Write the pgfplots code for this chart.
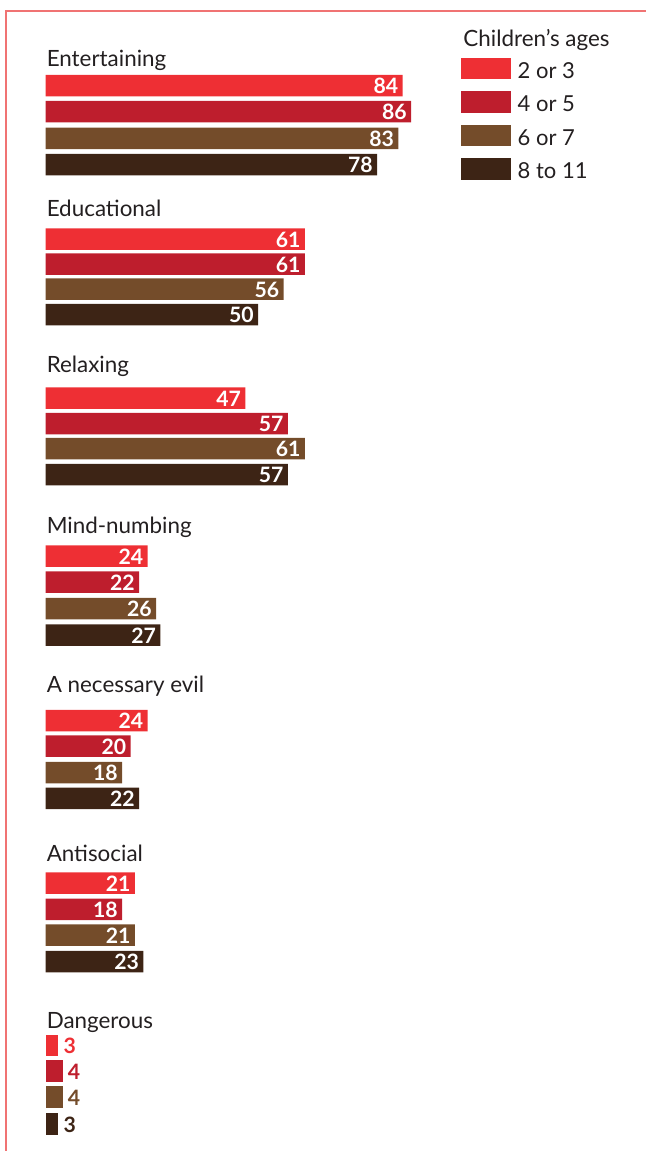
\documentclass[border=0pt]{standalone}
\usepackage{pgfplots}
\pgfplotsset{compat=1.18}
\usepackage{pgfplotstable}
\usepackage{fontspec}
\setmainfont{Lato}

\definecolor{ageA}{HTML}{EE2F34}
\definecolor{ageB}{HTML}{BE1E2D}
\definecolor{ageC}{HTML}{744C2A}
\definecolor{ageD}{HTML}{3D2415}
\definecolor{framered}{HTML}{F07373}
\definecolor{ink}{HTML}{231F20}

\newcommand\catfont{\fontsize{11.2pt}{13pt}\selectfont}
\newcommand\valuefont{\fontsize{10.6pt}{12pt}\selectfont\bfseries}
\newcommand\legendfont{\fontsize{11pt}{13pt}\selectfont}

% y = vertical position of each bar (counted downwards), v = percent
% Children aged 2 or 3
\pgfplotstableread{
y      v
85.5   84
239    61
398    47
556    24
720.5  24
883    21
}\ageAtab
% Children aged 4 or 5
\pgfplotstableread{
y      v
111.7  86
264    61
423.5  57
582    22
746    20
909.3  18
}\ageBtab
% Children aged 6 or 7
\pgfplotstableread{
y      v
138.3  83
289    56
448.5  61
608.5  26
772.5  18
935    21
}\ageCtab
% Children aged 8 to 11
\pgfplotstableread{
y      v
164.5  78
314.5  50
474.5  57
635    27
798.3  22
961.7  23
}\ageDtab
% "Dangerous": bars too short to hold their label
\pgfplotstableread{
y      v
1045.5 3
}\ageAdanger
\pgfplotstableread{
y      v
1071   4
}\ageBdanger
\pgfplotstableread{
y      v
1097   4
}\ageCdanger
\pgfplotstableread{
y      v
1124   3
}\ageDdanger

\pgfplotsset{
  agebar/.style={xbar, bar shift=0pt, draw=none, fill=#1,
    legend image code/.code={\fill[#1] (0pt,-3.6pt) rectangle (25pt,7.15pt);},
    nodes near coords, point meta=x,
    nodes near coords style={anchor=east, xshift=-2pt, yshift=-0.3pt, text=white,
      font=\valuefont, inner sep=0pt}},
  dangerbar/.style={xbar, bar shift=0pt, draw=none, fill=#1, forget plot,
    nodes near coords, point meta=x,
    nodes near coords style={anchor=west, xshift=2.5pt, yshift=-0.3pt, text=#1,
      font=\valuefont, inner sep=0pt}},
}

\begin{document}
\begin{tikzpicture}
\begin{axis}[
  at={(0pt,0pt)}, anchor=north west,
  x=2.125pt, y=0.5pt, y dir=reverse,
  xmin=-10.706, xmax=141.29, ymin=0, ymax=1151,
  hide axis, clip=false,
  bar width=10.75pt,
  /pgf/number format/assume math mode=true,
  legend cell align=left,
  legend style={at={(axis cs:97.76,57.5)}, anchor=north west,
    draw=none, fill=none, inner sep=0pt, outer sep=0pt,
    row sep=4.9pt, column sep=3.35pt,
    nodes={inner sep=0pt, outer sep=0pt, text=ink},
    font=\legendfont},
]
\addplot[agebar=ageA] table[x=v, y=y] {\ageAtab};
\addlegendentry{2 or 3}
\addplot[agebar=ageB] table[x=v, y=y] {\ageBtab};
\addlegendentry{4 or 5}
\addplot[agebar=ageC] table[x=v, y=y] {\ageCtab};
\addlegendentry{6 or 7}
\addplot[agebar=ageD] table[x=v, y=y] {\ageDtab};
\addlegendentry{8 to 11}

\addplot[dangerbar=ageA] table[x=v, y=y] {\ageAdanger};
\addplot[dangerbar=ageB] table[x=v, y=y] {\ageBdanger};
\addplot[dangerbar=ageC] table[x=v, y=y] {\ageCdanger};
\addplot[dangerbar=ageD] table[x=v, y=y] {\ageDdanger};

% category headings
\begin{scope}[every node/.style={anchor=base west, inner sep=0pt, text=ink, font=\catfont}]
\node at (axis cs:0.2,66.7)  {Entertaining};
\node at (axis cs:0.2,216)   {Educational};
\node at (axis cs:0.2,372)   {Relaxing};
\node at (axis cs:0.2,533.3) {Mind-numbing};
\node at (axis cs:0.2,692.7) {A necessary evil};
\node at (axis cs:0.2,861.7) {Antisocial};
\node at (axis cs:0.2,1028)  {Dangerous};
\end{scope}

\node[anchor=base west, inner sep=0pt, text=ink, font=\catfont]
  at (axis cs:98.24,46.7) {Children’s ages};

% frame rule on the left and top
\draw[framered, line width=1pt]
  (axis cs:-9.18,1151) -- (axis cs:-9.18,11) -- (axis cs:143,11);
\end{axis}
\pgfresetboundingbox
\path (0pt,0pt) rectangle (323pt,-575.5pt);
\end{tikzpicture}
\end{document}
